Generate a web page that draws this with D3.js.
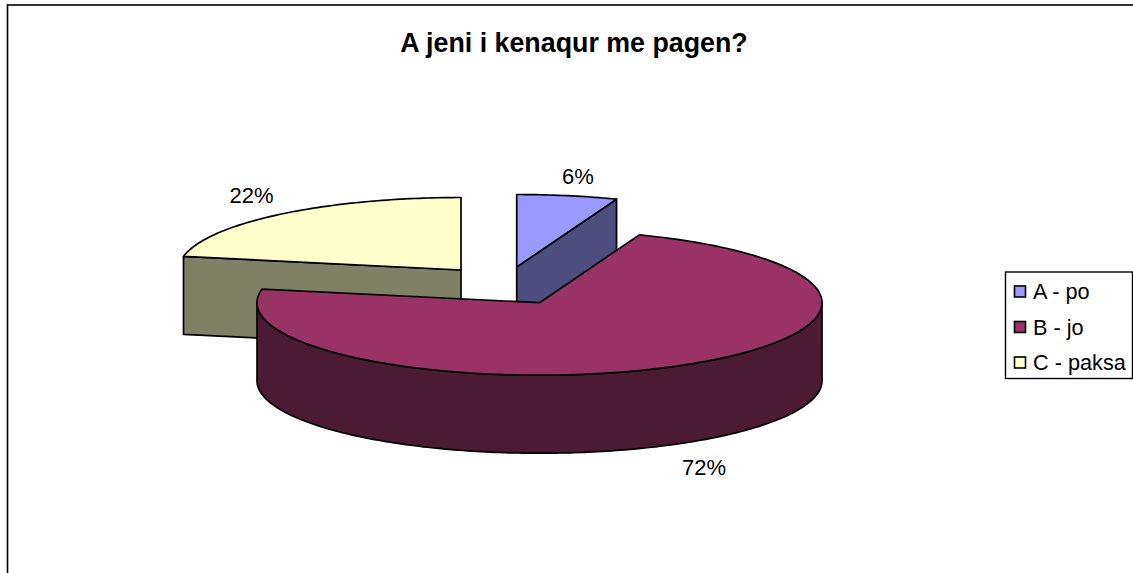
<html>
  <head>
    <title>A jeni i kenaqur me pagen?</title>
    <script src="https://d3js.org/d3.v7.min.js"></script>
    <style>
      body { margin:0; background:#fff; overflow:hidden; }
      svg { display:block; }
      text { font-family:"Liberation Sans",Arial,sans-serif; fill:#000; }
    </style>
  </head>
  <body>
    <script>
      var titleText="A jeni i kenaqur me pagen?";
      var categories=["A - po","B - jo","C - paksa"];
      // labels say 6/72/22, the slices measure a bit off those round numbers
      var values=[5.75,72.25,22];
      var labels=["6%","72%","22%"];

      var topColors=["#9999ff","#993366","#ffffcc"];
      var sideColors=["#4d4d80","#4d1a33","#808066"];

      // layout, per category
      var sliceCx=[516.7,539.5,461];
      var sliceCy=[267,302.7,270];
      var labelX=[578,704,251.5];
      var labelY=[183.5,475,202.5];
      var legendY=[291.5,327,362.5];

      var rx=282.5, ry=72.5, depth=78;

      var svg=d3.select("body").append("svg")
                .attr("width",1133)
                .attr("height",573);

      // chart frame runs off the right and bottom of the picture
      svg.append("rect")
         .attr("x",7.5).attr("y",5)
         .attr("width",1200).attr("height",700)
         .attr("fill","#fff")
         .attr("stroke","#000")
         .attr("stroke-width",1.6);

      svg.append("text")
         .attr("x",574).attr("y",51.5)
         .attr("text-anchor","middle")
         .attr("font-size",26.8)
         .attr("font-weight","bold")
         .text(titleText);

      var pie=d3.pie().sort(null).value(function(d){ return d; });
      var arcs=pie(values);

      var scaleX=d3.scaleLinear().domain([-1,1]).range([-rx,rx]);
      var scaleY=d3.scaleLinear().domain([-1,1]).range([ry,-ry]);
      var line=d3.line();

      function pt(i,a,drop)
      {
        return [sliceCx[i]+scaleX(Math.sin(a)),sliceCy[i]+scaleY(Math.cos(a))+(drop||0)];
      }

      function arcPoints(i,a0,a1,drop)
      {
        var n=Math.max(2,Math.ceil((a1-a0)*60));
        return d3.range(n+1).map(function(k){
          return pt(i,a0+(a1-a0)*k/n,drop);
        });
      }

      function apex(i,drop)
      {
        return [sliceCx[i],sliceCy[i]+(drop||0)];
      }

      function drawPath(pts,fill)
      {
        svg.append("path")
           .attr("d",line(pts)+"Z")
           .attr("fill",fill)
           .attr("stroke","#000")
           .attr("stroke-width",1.7)
           .attr("stroke-linejoin","round");
      }

      // back slices first so the big one lands on top
      [2,0,1].forEach(function(i){
        var a0=arcs[i].startAngle, a1=arcs[i].endAngle;

        // flat side faces, only the ones turned to the viewer
        if(a0>Math.PI && a0<2*Math.PI)
          drawPath([apex(i),pt(i,a0),pt(i,a0,depth),apex(i,depth)],sideColors[i]);
        if(a1>0 && a1<Math.PI)
          drawPath([apex(i),pt(i,a1),pt(i,a1,depth),apex(i,depth)],sideColors[i]);

        // outer wall, front half of the ellipse only
        var w0=Math.max(a0,Math.PI/2), w1=Math.min(a1,3*Math.PI/2);
        if(w0<w1)
        {
          var upper=arcPoints(i,w0,w1,0);
          var lower=arcPoints(i,w0,w1,depth).reverse();
          drawPath(upper.concat(lower),sideColors[i]);
        }

        drawPath([apex(i)].concat(arcPoints(i,a0,a1,0)),topColors[i]);
      });

      labels.forEach(function(t,i){
        svg.append("text")
           .attr("x",labelX[i]).attr("y",labelY[i])
           .attr("text-anchor","middle")
           .attr("font-size",22)
           .text(t);
      });

      // legend
      svg.append("rect")
         .attr("x",1005.5).attr("y",272)
         .attr("width",127).attr("height",106.5)
         .attr("fill","#fff")
         .attr("stroke","#000")
         .attr("stroke-width",1.4);

      categories.forEach(function(c,i){
        svg.append("rect")
           .attr("x",1014.5).attr("y",legendY[i]-5.5)
           .attr("width",11).attr("height",11)
           .attr("fill",topColors[i])
           .attr("stroke","#000")
           .attr("stroke-width",1.6);
        svg.append("text")
           .attr("x",1033).attr("y",legendY[i]+7.5)
           .attr("font-size",21.7)
           .text(c);
      });
    </script>
  </body>
</html>
